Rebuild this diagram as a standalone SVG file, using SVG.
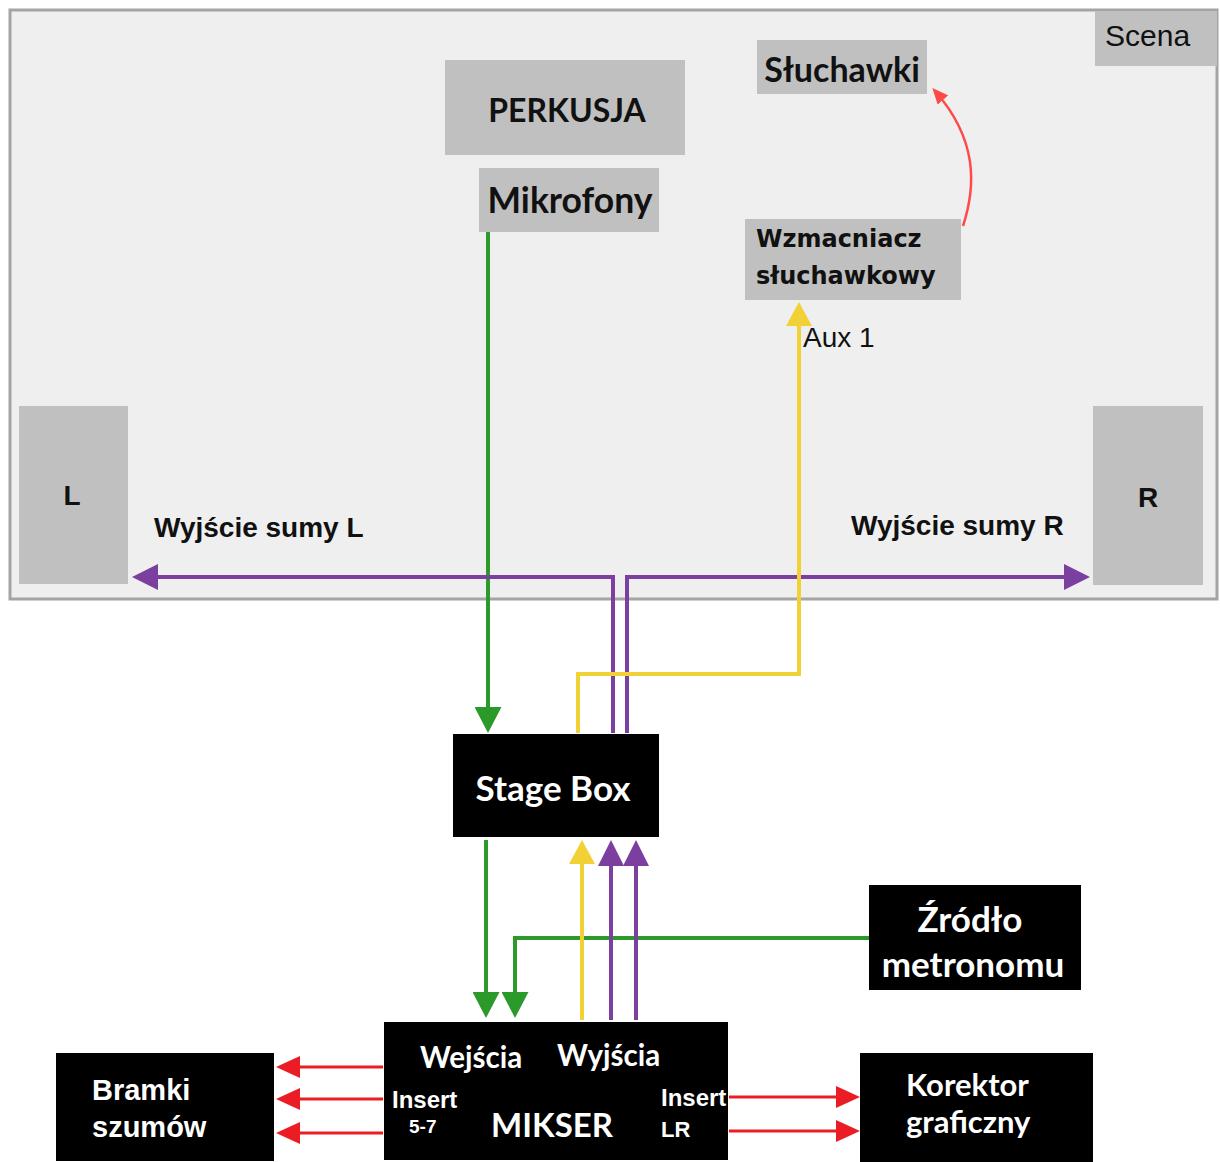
<svg xmlns="http://www.w3.org/2000/svg" width="1220" height="1162" viewBox="0 0 1220 1162">
<style>
.gray{fill:#c0c0c0}
.blk{fill:#000}
.cal{font-family:Lato,"Open Sans",sans-serif;font-weight:bold}
.ari{font-family:"Liberation Sans",Arial,sans-serif}
.ver{font-family:"DejaVu Sans",Verdana,sans-serif;font-weight:bold}
.dk{fill:#111}
.wt{fill:#fff}
.pl{fill:none;stroke:#7b3fa0;stroke-width:4}
.gr{fill:none;stroke:#2b9a2b;stroke-width:4}
.ye{fill:none;stroke:#f2d136;stroke-width:4}
.rd{fill:none;stroke:#ec1c24;stroke-width:3}
</style>
<defs>
<marker id="mP" markerUnits="userSpaceOnUse" markerWidth="26" markerHeight="26" refX="20" refY="13" orient="auto"><path d="M0,0 L26,13 L0,26 z" fill="#7b3fa0"/></marker>
<marker id="mG" markerUnits="userSpaceOnUse" markerWidth="26" markerHeight="27" refX="20" refY="13.5" orient="auto"><path d="M0,0 L26,13.5 L0,27 z" fill="#2b9a2b"/></marker>
<marker id="mY" markerUnits="userSpaceOnUse" markerWidth="24" markerHeight="26" refX="18" refY="13" orient="auto"><path d="M0,0 L24,13 L0,26 z" fill="#f2d136"/></marker>
<marker id="mR" markerUnits="userSpaceOnUse" markerWidth="24" markerHeight="22" refX="18" refY="11" orient="auto"><path d="M0,0 L24,11 L0,22 z" fill="#ec1c24"/></marker>
<marker id="mR2" markerUnits="userSpaceOnUse" markerWidth="16" markerHeight="14" refX="12" refY="7" orient="auto"><path d="M0,0 L16,7 L0,14 z" fill="#ff4a4a"/></marker>
</defs>
<rect width="1220" height="1162" fill="#fff"/>
<g id="scena">
<rect x="10" y="10" width="1207" height="589" fill="#efefef" stroke="#a4a4a4" stroke-width="3"/>
<rect x="1095" y="11" width="122" height="55" class="gray"/>
<text x="1105" y="46" class="ari dk" font-size="30">Scena</text>
</g>
<g id="perkusja">
<rect x="445" y="60" width="240" height="95" class="gray"/>
<text x="567" y="122" class="cal dk" font-size="32" text-anchor="middle">PERKUSJA</text>
</g>
<g id="mikrofony">
<rect x="479" y="168" width="180" height="64" class="gray"/>
<text x="570" y="213" class="cal dk" font-size="35.5" text-anchor="middle">Mikrofony</text>
</g>
<g id="sluchawki">
<rect x="757" y="40" width="170" height="54" class="gray"/>
<text x="842" y="82" class="cal dk" font-size="34" text-anchor="middle">Słuchawki</text>
</g>
<g id="wzmacniacz">
<rect x="745" y="219" width="216" height="81" class="gray"/>
<text x="756" y="247" class="ver dk" font-size="24">Wzmacniacz</text>
<text x="756" y="284" class="ver dk" font-size="24">słuchawkowy</text>
</g>
<g id="glosnikL">
<rect x="19" y="406" width="109" height="178" class="gray"/>
<text x="72" y="505" class="ari dk" font-size="28" font-weight="bold" text-anchor="middle">L</text>
</g>
<g id="glosnikR">
<rect x="1093" y="406" width="110" height="179" class="gray"/>
<text x="1148" y="507" class="ari dk" font-size="28" font-weight="bold" text-anchor="middle">R</text>
</g>
<g id="stagebox">
<rect x="453" y="734" width="206" height="103" class="blk"/>
<text x="553" y="801" class="cal wt" font-size="35" text-anchor="middle">Stage Box</text>
</g>
<g id="metronom">
<rect x="869" y="885" width="212" height="105" class="blk"/>
<text x="970" y="932" class="cal wt" font-size="35" text-anchor="middle">Źródło</text>
<text x="973" y="977" class="cal wt" font-size="35" text-anchor="middle">metronomu</text>
</g>
<g id="mikser">
<rect x="384" y="1022" width="344" height="138" class="blk"/>
<text x="420" y="1068" class="cal wt" font-size="29.5">Wejścia</text>
<text x="557" y="1066" class="cal wt" font-size="29.5">Wyjścia</text>
<text x="392" y="1108" class="ari wt" font-size="24" font-weight="bold">Insert</text>
<text x="409" y="1133" class="ari wt" font-size="19" font-weight="bold">5-7</text>
<text x="552" y="1137" class="cal wt" font-size="33" text-anchor="middle">MIKSER</text>
<text x="661" y="1106" class="ari wt" font-size="24" font-weight="bold">Insert</text>
<text x="661" y="1137" class="ari wt" font-size="22" font-weight="bold">LR</text>
</g>
<g id="bramki">
<rect x="56" y="1053" width="218" height="108" class="blk"/>
<text x="92" y="1100" class="ari wt" font-size="29" font-weight="bold">Bramki</text>
<text x="92" y="1137" class="ari wt" font-size="29" font-weight="bold">szumów</text>
</g>
<g id="korektor">
<rect x="860" y="1053" width="233" height="109" class="blk"/>
<text x="906" y="1096" class="cal wt" font-size="31">Korektor</text>
<text x="906" y="1133" class="cal wt" font-size="31">graficzny</text>
</g>
<g id="connectors">
<path class="gr" d="M488,232 V727" marker-end="url(#mG)"/>
<path class="pl" d="M613,733 V577 H138" marker-end="url(#mP)"/>
<path class="pl" d="M627,733 V577 H1084" marker-end="url(#mP)"/>
<path class="ye" d="M578,733 V674 H799 V308" marker-end="url(#mY)"/>
<path d="M963,226 C976,186 978,140 935,91" fill="none" stroke="#ff4a4a" stroke-width="2.5" marker-end="url(#mR2)"/>
<path class="gr" d="M486,840 V1012" marker-end="url(#mG)"/>
<path class="gr" d="M869,938 H515 V1012" marker-end="url(#mG)"/>
<path class="ye" d="M582,1020 V846" marker-end="url(#mY)"/>
<path class="pl" d="M611,1020 V846" marker-end="url(#mP)"/>
<path class="pl" d="M636,1020 V846" marker-end="url(#mP)"/>
<path class="rd" d="M383,1067 H282" marker-end="url(#mR)"/>
<path class="rd" d="M383,1099 H282" marker-end="url(#mR)"/>
<path class="rd" d="M383,1133 H282" marker-end="url(#mR)"/>
<path class="rd" d="M729,1097 H854" marker-end="url(#mR)"/>
<path class="rd" d="M729,1131 H854" marker-end="url(#mR)"/>
<text x="803" y="347" class="ari dk" font-size="28">Aux 1</text>
<text x="154" y="537" class="ari dk" font-size="28" font-weight="bold">Wyjście sumy L</text>
<text x="851" y="535" class="ari dk" font-size="28" font-weight="bold">Wyjście sumy R</text>
</g>
</svg>
